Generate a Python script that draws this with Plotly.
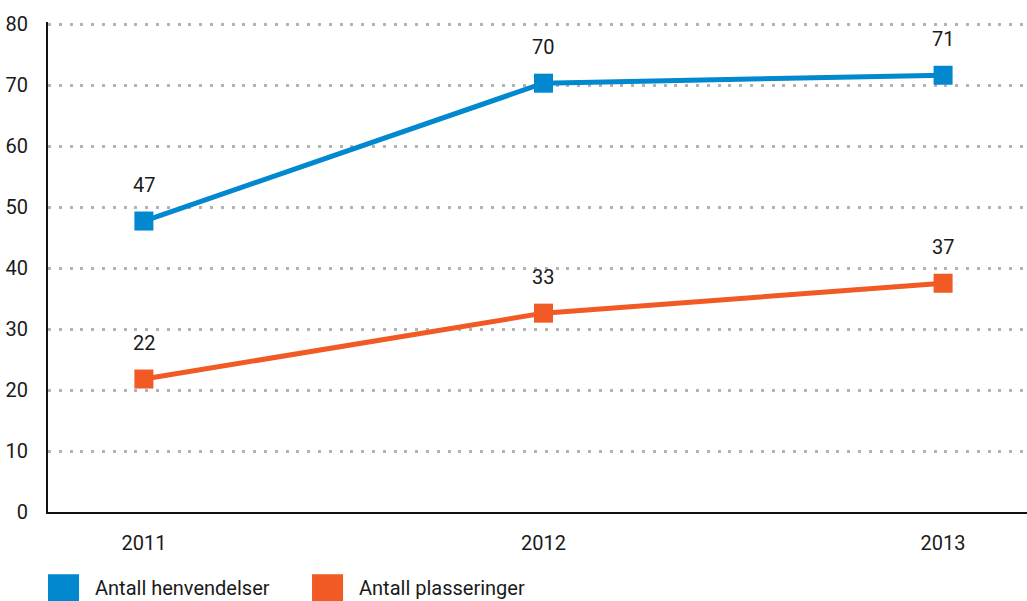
import plotly.graph_objects as go

# ── Data ──────────────────────────────────────────────────────────────────────
years = ["2011", "2012", "2013"]
henvendelser = [47.7, 70.3, 71.6]
henvendelser_labels = ["47", "70", "71"]
plasseringer = [21.8, 32.6, 37.5]
plasseringer_labels = ["22", "33", "37"]
y_ticks = [0, 10, 20, 30, 40, 50, 60, 70, 80]

series = [
    ("Antall henvendelser", henvendelser, henvendelser_labels, "#0288cf"),
    ("Antall plasseringer", plasseringer, plasseringer_labels, "#f15a24"),
]

_FONT = "Roboto, sans-serif"
_TEXT = "#1a1a1a"
_GRID = "#b3b3b3"
_SIZE = 20

fig = go.Figure()

for name, vals, labels, color in series:
    fig.add_trace(go.Scatter(
        x=years, y=vals,
        name=name,
        mode="lines+markers",
        line=dict(color=color, width=5),
        marker=dict(symbol="square", size=19, color=color),
        showlegend=False,
        hoverinfo="skip",
    ))
    # value labels above each marker (category index, not the year string)
    for i, (v, t) in enumerate(zip(vals, labels)):
        fig.add_annotation(
            x=i, y=v, text=t,
            showarrow=False, yshift=36,
            font=dict(family=_FONT, size=_SIZE, color=_TEXT),
        )

# ── Custom legend (big square swatches) ──────────────────────────────────────
legend_x = [0.0, 0.2697]
for (name, _, _, color), lx in zip(series, legend_x):
    fig.add_shape(
        type="rect", xref="paper", yref="paper",
        x0=lx, x1=lx + 0.0317, y0=-0.182, y1=-0.127,
        fillcolor=color, line=dict(width=0),
    )
    fig.add_annotation(
        xref="paper", yref="paper",
        x=lx + 0.046, y=-0.156, xanchor="left", yanchor="middle",
        text=name, showarrow=False,
        font=dict(family=_FONT, size=_SIZE, color=_TEXT),
    )

fig.update_layout(
    width=1027, height=601,
    margin=dict(l=48, r=0, t=22, b=89),
    plot_bgcolor="white",
    paper_bgcolor="white",
    font=dict(family=_FONT, size=_SIZE, color=_TEXT),
    showlegend=False,
    xaxis=dict(
        type="category",
        range=[-0.24, 2.21],
        showgrid=False,
        showline=True, linecolor="#111", linewidth=2,
        ticks="", ticklabelstandoff=12,
        zeroline=False,
    ),
    yaxis=dict(
        range=[0, 80.33],
        tickvals=y_ticks,
        showgrid=True, gridcolor=_GRID, gridwidth=3, griddash="3px,7.8px",
        showline=True, linecolor="#111", linewidth=2,
        ticks="", ticklabelstandoff=14,
        zeroline=False,
    ),
)

fig.write_html(
    "out.html",
    config={"displayModeBar": False},
    post_script="document.body.style.margin='0';",
)
